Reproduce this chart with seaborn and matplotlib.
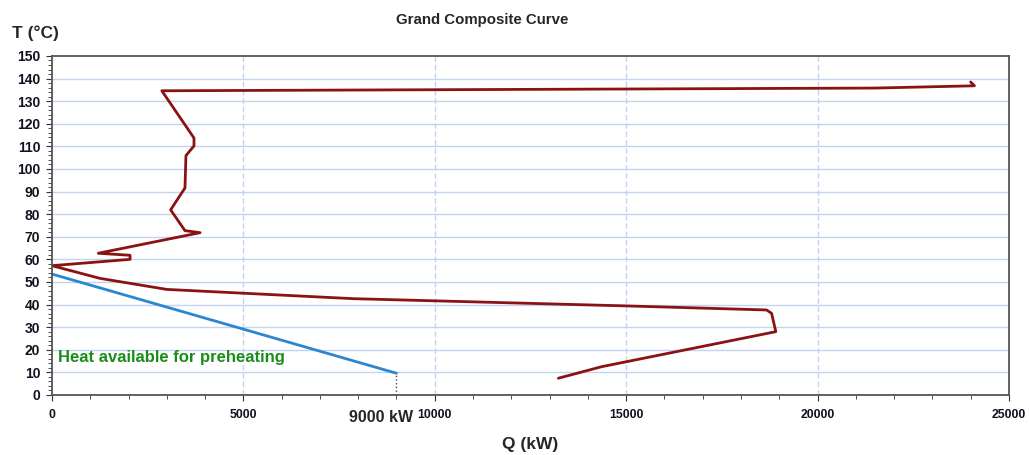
import pandas as pd
import numpy as np
import matplotlib.pyplot as plt
import seaborn as sns

# ---------- DATA ----------

# grand composite curve, top to bottom
gcc_q = [24000, 24100, 21500, 2870, 3710, 3710, 3500, 3475, 3100, 3475, 3870,
         1210, 2040, 2040, 0, 1250, 3000, 7870, 15000, 18670, 18800, 18910,
         14360, 13230]
gcc_t = [138.5, 136.8, 135.8, 134.6, 113.7, 110.2, 105.9, 91.6, 81.9, 72.7, 71.8,
         62.7, 61.8, 60.0, 57.2, 51.6, 46.7, 42.6, 39.4, 37.6, 36.1, 28.0,
         12.5, 7.4]

# heat available for preheating
heat_q = [0, 9000]
heat_t = [53.5, 9.6]

x_ticks = [0, 5000, 10000, 15000, 20000, 25000]
y_ticks = list(range(0, 151, 10))

gcc = pd.DataFrame({'Q': gcc_q, 'T': gcc_t})
heat = pd.DataFrame({'Q': heat_q, 'T': heat_t})

# ---------- PLOT ----------

sns.set_style("white")
plt.rcParams['font.family'] = ['Liberation Sans', 'DejaVu Sans']

fig = plt.figure(figsize=(10.29, 4.55), dpi=100)
ax = fig.add_axes([0.0505, 0.132, 0.930, 0.745])

# grid
for t in y_ticks[1:-1]:
    ax.axhline(t, color='#c2d3ef', lw=1, zorder=0)
for q in x_ticks[1:-1]:
    ax.axvline(q, color='#c2d3ef', lw=1, ls=(0, (4, 2)), zorder=0)

sns.lineplot(data=gcc, x='Q', y='T', sort=False, estimator=None,
             color='#8b1212', lw=2, ax=ax)
sns.lineplot(data=heat, x='Q', y='T', sort=False, estimator=None,
             color='#2b86d1', lw=2, ax=ax)

# dotted drop line at 9000 kW
ax.plot([heat_q[1], heat_q[1]], [0, heat_t[1]], color='#444444', lw=1, ls=':')

ax.set_xlim(0, 25000)
ax.set_ylim(0, 150)
ax.set_xticks(x_ticks)
ax.set_yticks(y_ticks)
ax.set_xticks(np.arange(0, 25001, 1000), minor=True)
ax.set_yticks(np.arange(0, 151, 2), minor=True)
ax.tick_params(axis='x', which='major', length=4, pad=6, labelsize=8.8)
ax.tick_params(axis='y', which='major', length=4, pad=4.5, labelsize=10)
ax.tick_params(which='minor', length=3)
ax.tick_params(which='both', direction='out', color='#333333',
               bottom=True, left=True)
for lab in ax.get_xticklabels() + ax.get_yticklabels():
    lab.set_fontweight('bold')
    lab.set_color('#111122')

for side in ['top', 'right', 'left', 'bottom']:
    ax.spines[side].set_color('#555555')
    ax.spines[side].set_linewidth(1.3)

ax.set_xlabel('')
ax.set_ylabel('')

fig.text(0.469, 0.956, 'Grand Composite Curve', ha='center', va='center',
         fontsize=10.8, fontweight='bold')
fig.text(0.012, 0.927, 'T (°C)', ha='left', va='center',
         fontsize=12.5, fontweight='bold')
fig.text(0.515, 0.022, 'Q (kW)', ha='center', va='center',
         fontsize=12.5, fontweight='bold')

ax.text(160, 16.4, 'Heat available for preheating', color='#1a8c1a',
        fontsize=12, fontweight='bold', ha='left', va='center')
ax.text(9430, -10, '9000 kW', fontsize=11.5, fontweight='bold',
        ha='right', va='center', clip_on=False)

fig.savefig("out.png", dpi=100)
